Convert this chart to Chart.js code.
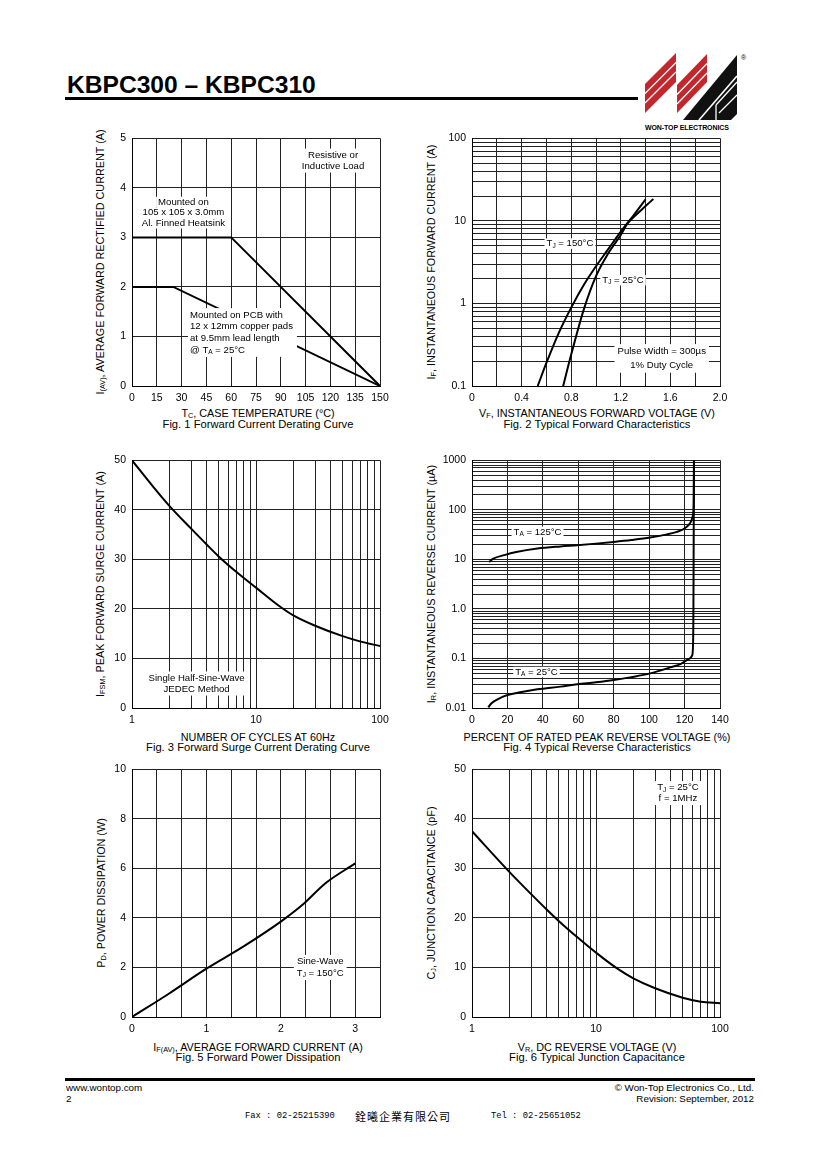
<!DOCTYPE html>
<html><head><meta charset="utf-8">
<script src="https://cdn.jsdelivr.net/npm/chart.js@4/dist/chart.umd.min.js"></script>
<style>
body{margin:0;background:#fff;width:820px;height:1160px;position:relative;overflow:hidden;font-family:"Liberation Sans",Arial,sans-serif;color:#000}
canvas{position:absolute}
.a{position:absolute;white-space:nowrap;line-height:1}
.yt{position:absolute;white-space:nowrap;line-height:1;font-size:10.8px;transform:translate(-50%,-50%) rotate(-90deg)}
.xt{position:absolute;white-space:nowrap;line-height:1;font-size:10.8px;transform:translate(-50%,-50%)}
.cap{position:absolute;white-space:nowrap;line-height:1;font-size:11.2px;transform:translate(-50%,-50%)}
sub{font-size:68%;vertical-align:-0.25em;line-height:0}
.rule{position:absolute;background:#000}
</style></head><body>
<div class="a" style="left:67px;top:73px;font-size:24.6px;font-weight:bold">KBPC300 – KBPC310</div>
<div class="rule" style="left:65px;top:97px;width:573px;height:2.5px"></div>
<svg style="position:absolute;left:0;top:0" width="820" height="140">
  <polygon points="645,84 676,53 676,82 645,113" fill="#c1272d"/>
  <polygon points="677,85 707,54 707,82 677,113" fill="#c1272d"/>
  <line x1="645" y1="93.5" x2="676" y2="62.5" stroke="#fff" stroke-width="1.3"/>
  <line x1="645" y1="103" x2="676" y2="72" stroke="#fff" stroke-width="1.3"/>
  <line x1="677" y1="94.5" x2="707" y2="63.5" stroke="#fff" stroke-width="1.3"/>
  <line x1="677" y1="104" x2="707" y2="73" stroke="#fff" stroke-width="1.3"/>
  <polygon points="683,120 737,55 737,114 731,120" fill="#111"/>
  <line x1="699" y1="120" x2="737" y2="76" stroke="#fff" stroke-width="1.6"/>
  <line x1="716" y1="105" x2="737" y2="82" stroke="#fff" stroke-width="1.3"/>
  <line x1="719" y1="113" x2="737" y2="95" stroke="#fff" stroke-width="1.3"/>
  <line x1="716" y1="105" x2="716" y2="120" stroke="#fff" stroke-width="1.3"/>
</svg>
<div class="a" style="left:741px;top:54px;font-size:7px">®</div>
<div class="a" style="left:645px;top:124px;font-size:7px;font-weight:bold;letter-spacing:-0.1px">WON-TOP ELECTRONICS</div>

<div class="yt" style="left:100px;top:262px">I<sub>(AV)</sub>, AVERAGE FORWARD RECTIFIED CURRENT (A)</div>
<div class="xt" style="left:258px;top:413px">T<sub>C</sub>, CASE TEMPERATURE (°C)</div>
<div class="cap" style="left:258px;top:425px">Fig. 1 Forward Current Derating Curve</div>

<div class="yt" style="left:431px;top:262px">I<sub>F</sub>, INSTANTANEOUS FORWARD CURRENT (A)</div>
<div class="xt" style="left:597px;top:413px">V<sub>F</sub>, INSTANTANEOUS FORWARD VOLTAGE (V)</div>
<div class="cap" style="left:597px;top:425px">Fig. 2 Typical Forward Characteristics</div>

<div class="yt" style="left:100px;top:584px">I<sub>FSM</sub>, PEAK FORWARD SURGE CURRENT (A)</div>
<div class="xt" style="left:258px;top:737px">NUMBER OF CYCLES AT 60Hz</div>
<div class="cap" style="left:258px;top:748px">Fig. 3 Forward Surge Current Derating Curve</div>

<div class="yt" style="left:431px;top:584px">I<sub>R</sub>, INSTANTANEOUS REVERSE CURRENT (µA)</div>
<div class="xt" style="left:597px;top:737px">PERCENT OF RATED PEAK REVERSE VOLTAGE (%)</div>
<div class="cap" style="left:597px;top:748px">Fig. 4 Typical Reverse Characteristics</div>

<div class="yt" style="left:101px;top:893px">P<sub>D</sub>, POWER DISSIPATION (W)</div>
<div class="xt" style="left:258px;top:1047px">I<sub>F(AV)</sub>, AVERAGE FORWARD CURRENT (A)</div>
<div class="cap" style="left:258px;top:1058px">Fig. 5 Forward Power Dissipation</div>

<div class="yt" style="left:431px;top:893px">C<sub>J</sub>, JUNCTION CAPACITANCE (pF)</div>
<div class="xt" style="left:597px;top:1047px">V<sub>R</sub>, DC REVERSE VOLTAGE (V)</div>
<div class="cap" style="left:597px;top:1058px">Fig. 6 Typical Junction Capacitance</div>

<div class="rule" style="left:65px;top:1078px;width:690px;height:2.5px"></div>
<div class="a" style="left:66px;top:1083px;font-size:9.8px">www.wontop.com</div>
<div class="a" style="left:66px;top:1094px;font-size:9.8px">2</div>
<div class="a" style="right:66px;top:1083px;font-size:9.8px;text-align:right">© Won-Top Electronics Co., Ltd.</div>
<div class="a" style="right:66px;top:1094px;font-size:9.8px;text-align:right">Revision: September, 2012</div>
<div class="a" style="left:245px;top:1112px;font-size:8.8px;font-family:'Liberation Mono',monospace">Fax : 02-25215390</div>
<div class="a" style="left:355px;top:1111px;font-size:11px;letter-spacing:1px;font-family:'Noto Sans CJK TC',sans-serif">銓曦企業有限公司</div>
<div class="a" style="left:491px;top:1112px;font-size:8.8px;font-family:'Liberation Mono',monospace">Tel : 02-25651052</div>

<script>
// ---------------- DATA ----------------
// Fig. 1 Forward Current Derating Curve
const fig1HeatsinkTemp = [0, 60, 150];
const fig1HeatsinkCurrent = [3, 3, 0];
const fig1PcbTemp = [0, 25, 150];
const fig1PcbCurrent = [2, 2, 0];
const fig1XGrid = [0, 15, 30, 45, 60, 75, 90, 105, 120, 135, 150];
const fig1XLabels = ['0','15','30','45','60','75','90','105','120','135','150'];
const fig1YGrid = [0, 1, 2, 3, 4, 5];
const fig1YLabels = ['0','1','2','3','4','5'];

// Fig. 2 Typical Forward Characteristics
const fig2V150 = [0.53, 0.6, 0.7, 0.8, 0.9, 1.0, 1.1, 1.2, 1.3, 1.4];
const fig2I150 = [0.1, 0.19, 0.44, 0.89, 1.66, 2.82, 4.57, 7.41, 11.5, 18.2];
const fig2V25 = [0.735, 0.8, 0.9, 1.0, 1.1, 1.2, 1.25, 1.3, 1.4, 1.462];
const fig2I25 = [0.1, 0.24, 0.83, 2.14, 4.07, 6.76, 9.12, 10.96, 15.1, 18.4];
const fig2XGrid = [0, 0.2, 0.4, 0.6, 0.8, 1.0, 1.2, 1.4, 1.6, 1.8, 2.0];
const fig2XLabelValues = [0, 0.4, 0.8, 1.2, 1.6, 2.0];
const fig2XLabels = ['0','0.4','0.8','1.2','1.6','2.0'];
const fig2YLabelValues = [0.1, 1, 10, 100];
const fig2YLabels = ['0.1','1','10','100'];

// Fig. 3 Forward Surge Current Derating Curve
const fig3Cycles = [1, 1.5, 2, 3, 4, 5, 7, 10, 15, 20, 30, 50, 70, 100];
const fig3Current = [50, 44.5, 40.8, 36.2, 33.0, 30.6, 27.4, 24.3, 20.8, 18.7, 16.6, 14.5, 13.4, 12.5];
const fig3XLabelValues = [1, 10, 100];
const fig3XLabels = ['1','10','100'];
const fig3YGrid = [0, 10, 20, 30, 40, 50];
const fig3YLabels = ['0','10','20','30','40','50'];

// Fig. 4 Typical Reverse Characteristics
const fig4Pct125 = [9.7, 12, 18.2, 25, 36.9, 50, 59.4, 70, 80, 90, 100.6, 110, 115.6, 120, 122.2, 123.8, 124.8, 125.2, 125.3];
const fig4I125 = [8.9, 10.3, 12.2, 14.1, 16.6, 18.3, 19.3, 20.8, 22.5, 24.6, 27.6, 32, 35.9, 42, 49, 60, 80, 150, 1000];
const fig4Pct25 = [9.2, 11, 14.4, 20, 28, 36.9, 50, 59.4, 70, 80, 90, 100.6, 111.9, 118, 121.2, 123, 124.3, 124.8, 125, 125.2, 125.3];
const fig4I25 = [0.0103, 0.0125, 0.015, 0.0183, 0.021, 0.0238, 0.027, 0.030, 0.033, 0.0367, 0.042, 0.050, 0.066, 0.078, 0.093, 0.1, 0.115, 0.2, 1, 100, 1000];
const fig4XGrid = [0, 20, 40, 60, 80, 100, 120, 140];
const fig4XLabels = ['0','20','40','60','80','100','120','140'];
const fig4YLabelValues = [0.01, 0.1, 1, 10, 100, 1000];
const fig4YLabels = ['0.01','0.1','1.0','10','100','1000'];

// Fig. 5 Forward Power Dissipation
const fig5Current = [0, 0.5, 1, 1.5, 2, 2.3, 2.6, 3];
const fig5Power = [0, 0.95, 1.95, 2.85, 3.85, 4.55, 5.4, 6.2];
const fig5XGrid = [0, 1/3, 2/3, 1, 4/3, 5/3, 2, 7/3, 8/3, 3, 10/3];
const fig5XLabelValues = [0, 1, 2, 3];
const fig5XLabels = ['0','1','2','3'];
const fig5YGrid = [0, 2, 4, 6, 8, 10];
const fig5YLabels = ['0','2','4','6','8','10'];

// Fig. 6 Typical Junction Capacitance
const fig6Voltage = [1, 2, 3, 4, 5, 7, 10, 15, 20, 30, 50, 70, 100];
const fig6Cap = [37.5, 29.3, 24.8, 21.7, 19.4, 16.2, 13.0, 9.7, 7.8, 5.8, 3.9, 3.1, 2.8];
const fig6XLabelValues = [1, 10, 100];
const fig6XLabels = ['1','10','100'];
const fig6YGrid = [0, 10, 20, 30, 40, 50];
const fig6YLabels = ['0','10','20','30','40','50'];

// log grid lines (1..9 x 10^n)
function logGrid(lo, hi){
  const out=[];
  for(let e=Math.round(Math.log10(lo)); e<Math.round(Math.log10(hi)); e++){
    for(let m=1;m<10;m++) out.push(parseFloat((m*Math.pow(10,e)).toPrecision(6)));
  }
  out.push(hi); return out;
}

// ---------------- RENDER ----------------
Chart.defaults.font.family = '"Liberation Sans", Arial, sans-serif';
Chart.defaults.font.size = 10.5;
Chart.defaults.color = '#000';

const FONT = '"Liberation Sans", Arial, sans-serif';
function parseRich(s){
  const parts=[]; const re=/_\{([^}]*)\}/g; let last=0,m;
  while((m=re.exec(s))){ if(m.index>last) parts.push({t:s.slice(last,m.index),sub:false}); parts.push({t:m[1],sub:true}); last=re.lastIndex; }
  if(last<s.length) parts.push({t:s.slice(last),sub:false});
  return parts;
}
function richWidth(ctx, parts, size){
  let w=0; parts.forEach(p=>{ ctx.font=(p.sub?size*0.68:size)+'px '+FONT; w+=ctx.measureText(p.t).width; }); return w;
}
function notes(items){
  return { id:'notes', afterDatasetsDraw(chart){
    const ctx=chart.ctx; ctx.save();
    items.forEach(it=>{
      const size=it.size||9.6, lh=it.lh||11;
      const px=chart.scales.x.getPixelForValue(it.x), py=chart.scales.y.getPixelForValue(it.y);
      const rows=it.lines.map(parseRich);
      const widths=rows.map(r=>richWidth(ctx,r,size));
      const n=rows.length, maxW=Math.max(...widths);
      const left=it.align==='left'?px:px-maxW/2;
      ctx.fillStyle='#fff';
      if(it.block){
        const pl=it.padL??3, pr=it.padR??3;
        ctx.fillRect(left-pl, py-n*lh/2-1, maxW+pl+pr, n*lh+2);
      } else {
        rows.forEach((r,i)=>{ const cy=py+(i-(n-1)/2)*lh; const x0=it.align==='left'?px:px-widths[i]/2; ctx.fillRect(x0-2, cy-size*0.55, widths[i]+4, size*1.1); });
      }
      ctx.fillStyle='#000'; ctx.textBaseline='middle'; ctx.textAlign='left';
      rows.forEach((r,i)=>{
        const cy=py+(i-(n-1)/2)*lh; let x=it.align==='left'?px:px-widths[i]/2;
        r.forEach(p=>{ const fs=p.sub?size*0.68:size; ctx.font=fs+'px '+FONT; ctx.fillText(p.t, x, p.sub?cy+size*0.25:cy); x+=ctx.measureText(p.t).width; });
      });
    });
    ctx.restore();
  }};
}

function axis(type, min, max, grid, labelValues, labels){
  return {
    type, min, max,
    afterBuildTicks: s => { s.ticks = grid.map(v => ({value:v})); },
    ticks: { autoSkip:false, maxRotation:0, minRotation:0, padding:6, color:'#000', font:{size:10.5},
      callback: v => { const i = labelValues.findIndex(t => Math.abs(t-v) <= 1e-6*Math.abs(t)+1e-9); return i<0 ? '' : labels[i]; } },
    grid: { color:'#222', lineWidth:1, drawTicks:false },
    border: { color:'#000', width:1 }
  };
}
function series(xs, ys, smooth){
  return { data: xs.map((x,i)=>({x, y:ys[i]})), borderColor:'#000', borderWidth:2, pointRadius:0, fill:false,
           tension:0, cubicInterpolationMode: smooth?'monotone':'default' };
}
function makeChart(rect, xCfg, yCfg, datasets, items){
  const L=45, T=12, R=25, B=20;
  const c=document.createElement('canvas');
  c.width=rect.w+L+R; c.height=rect.h+T+B;
  c.style.left=(rect.x-L)+'px'; c.style.top=(rect.y-T)+'px';
  c.style.width=c.width+'px'; c.style.height=c.height+'px';
  document.body.appendChild(c);
  xCfg.afterFit = s => { s.height = B; };
  yCfg.afterFit = s => { s.width = L; };
  new Chart(c, { type:'line', data:{datasets},
    options:{ responsive:false, animation:false, devicePixelRatio:1, events:[],
      layout:{padding:{left:0, top:T, right:R, bottom:0}},
      scales:{ x:xCfg, y:yCfg },
      plugins:{ legend:{display:false}, tooltip:{enabled:false} } },
    plugins:[notes(items)] });
}

// Fig. 1
makeChart({x:132,y:138,w:248,h:248},
  axis('linear',0,150,fig1XGrid,fig1XGrid,fig1XLabels),
  axis('linear',0,5,fig1YGrid,fig1YGrid,fig1YLabels),
  [series(fig1HeatsinkTemp,fig1HeatsinkCurrent,false), series(fig1PcbTemp,fig1PcbCurrent,false)],
  [ {x:121.6,y:4.55,lines:['Resistive or','Inductive Load'],lh:11,block:true},
    {x:31.1,y:3.5,lines:['Mounted on','105 x 105 x 3.0mm','Al. Finned Heatsink'],lh:10.6,block:false},
    {x:35.1,y:1.08,align:'left',lines:['Mounted on PCB with','12 x 12mm copper pads','at 9.5mm lead length','@ T_{A} = 25°C'],lh:11.7,block:true,padL:2,padR:4} ]);

// Fig. 2
makeChart({x:472,y:138,w:248,h:248},
  axis('linear',0,2,fig2XGrid,fig2XLabelValues,fig2XLabels),
  axis('logarithmic',0.1,100,logGrid(0.1,100),fig2YLabelValues,fig2YLabels),
  [series(fig2V150,fig2I150,true), series(fig2V25,fig2I25,true)],
  [ {x:0.79,y:5.3,lines:['T_{J} = 150°C']},
    {x:1.218,y:1.91,lines:['T_{J} = 25°C']},
    {x:1.53,y:0.216,lines:['Pulse Width = 300µs','1% Duty Cycle'],lh:13.3,block:true} ]);

// Fig. 3
makeChart({x:132,y:460,w:248,h:248},
  axis('logarithmic',1,100,logGrid(1,100),fig3XLabelValues,fig3XLabels),
  axis('linear',0,50,fig3YGrid,fig3YGrid,fig3YLabels),
  [series(fig3Cycles,fig3Current,true)],
  [ {x:3.32,y:4.94,lines:['Single Half-Sine-Wave','JEDEC Method'],lh:11,block:true} ]);

// Fig. 4
makeChart({x:472,y:460,w:248,h:248},
  axis('linear',0,140,fig4XGrid,fig4XGrid,fig4XLabels),
  axis('logarithmic',0.01,1000,logGrid(0.01,1000),fig4YLabelValues,fig4YLabels),
  [series(fig4Pct125,fig4I125,true), series(fig4Pct25,fig4I25,true)],
  [ {x:37.0,y:35.8,lines:['T_{A} = 125°C']},
    {x:36.4,y:0.0532,lines:['T_{A} = 25°C']} ]);

// Fig. 5
makeChart({x:132,y:769,w:248,h:248},
  axis('linear',0,10/3,fig5XGrid,fig5XLabelValues,fig5XLabels),
  axis('linear',0,10,fig5YGrid,fig5YGrid,fig5YLabels),
  [series(fig5Current,fig5Power,true)],
  [ {x:2.53,y:2.0,lines:['Sine-Wave','T_{J} = 150°C'],lh:11.6,block:true} ]);

// Fig. 6
makeChart({x:472,y:769,w:248,h:248},
  axis('logarithmic',1,100,logGrid(1,100),fig6XLabelValues,fig6XLabels),
  axis('linear',0,50,fig6YGrid,fig6YGrid,fig6YLabels),
  [series(fig6Voltage,fig6Cap,true)],
  [ {x:45.8,y:45.2,lines:['T_{J} = 25°C','f = 1MHz'],lh:11,block:true} ]);
</script>
</body></html>
